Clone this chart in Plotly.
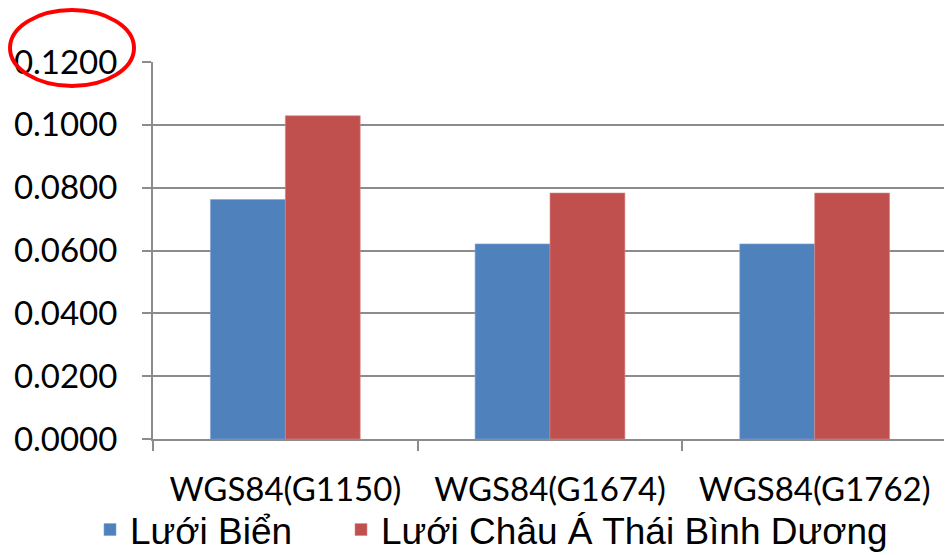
import plotly.graph_objects as go

categories = ["WGS84(G1150)", "WGS84(G1674)", "WGS84(G1762)"]
series_names = ["Lưới Biển", "Lưới Châu Á Thái Bình Dương"]
luoi_bien = [0.0762, 0.0621, 0.0621]
luoi_chau_a = [0.1029, 0.0783, 0.0783]
y_ticks = [0.0, 0.02, 0.04, 0.06, 0.08, 0.10, 0.12]
y_tick_labels = ["0.0000", "0.0200", "0.0400", "0.0600", "0.0800", "0.1000", "0.1200"]

OFF = 8  # default page body margin
W, H = 952 - OFF, 555 - OFF
ML, MR, MT, MB = 145, 5, 54, 116
PW = W - ML - MR
PH = H - MT - MB

def px_x(p):  # p: page pixel
    return (p - OFF - ML) / PW

def px_y(p):
    return (H - MB - (p - OFF)) / PH

GRID = "#8c8c8c"
TICKFONT = dict(family="Lato, Calibri, Carlito, sans-serif", size=33, color="black")
LEGFONT = dict(family="Liberation Sans, Arial, sans-serif", size=37, color="black")

fig = go.Figure()
fig.add_trace(go.Bar(name=series_names[0], x=categories, y=luoi_bien, legend="legend",
                     showlegend=True,
                     marker=dict(color="#4F81BD", line=dict(color="#7fa3d3", width=0.6))))
fig.add_trace(go.Bar(name=series_names[1], x=categories, y=luoi_chau_a, legend="legend2",
                     showlegend=True,
                     marker=dict(color="#C0504D", line=dict(color="#d88a88", width=0.6))))

fig.update_layout(
    width=W, height=H, showlegend=True,
    margin=dict(l=ML, r=MR, t=MT, b=MB, autoexpand=False),
    paper_bgcolor="white", plot_bgcolor="white",
    barmode="group", bargap=0.434, bargroupgap=0,
    legend=dict(orientation="h", x=px_x(90), xanchor="left", y=px_y(530), yanchor="middle",
                font=LEGFONT, bgcolor="rgba(0,0,0,0)", visible=True),
    legend2=dict(orientation="h", x=px_x(341), xanchor="left", y=px_y(530), yanchor="middle",
                 font=LEGFONT, bgcolor="rgba(0,0,0,0)", visible=True),
    xaxis=dict(showline=True, linecolor=GRID, linewidth=2, ticks="outside", tickson="boundaries",
               ticklen=10, tickcolor=GRID, tickwidth=2, tickfont=TICKFONT,
               ticklabelstandoff=20, showgrid=False),
    yaxis=dict(range=[0, 0.12], tickvals=y_ticks, ticktext=y_tick_labels, showgrid=True,
               gridcolor=GRID, gridwidth=2, showline=True, linecolor=GRID, linewidth=2,
               ticks="outside", ticklen=9, tickcolor=GRID, tickwidth=2, tickfont=TICKFONT,
               ticklabelstandoff=18, zeroline=False),
    shapes=[dict(type="circle", xref="paper", yref="paper",
                 x0=px_x(10), x1=px_x(134), y0=px_y(86), y1=px_y(10),
                 line=dict(color="#ff0000", width=4))],
)

fig.write_html("out.html")
